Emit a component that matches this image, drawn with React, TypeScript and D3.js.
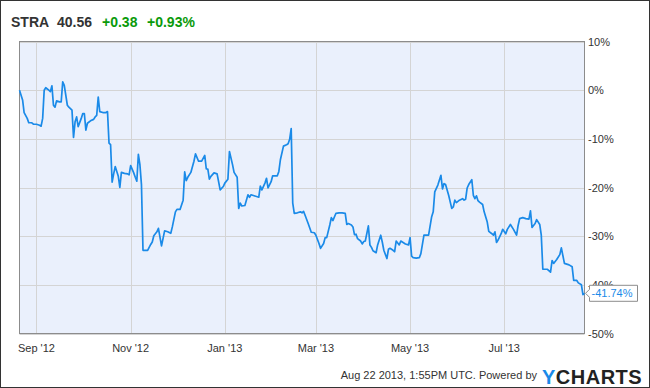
import React, { useMemo } from "react";
import * as d3 from "d3";

// STRA price change since 2012-08-21, in percent
const fall2012: [string, number][] = [
    ["2012-08-21", 0], ["2012-08-23", -2.0], ["2012-08-24", -4.6], ["2012-08-26", -5.8],
    ["2012-08-27", -6.7], ["2012-08-29", -6.7], ["2012-08-30", -7.0], ["2012-09-01", -7.0],
    ["2012-09-03", -7.2], ["2012-09-04", -7.4], ["2012-09-05", -5.8], ["2012-09-06", 0],
    ["2012-09-07", 0.5], ["2012-09-09", 0], ["2012-09-10", -0.3], ["2012-09-11", 0.9],
    ["2012-09-12", -3.1], ["2012-09-13", -3.5], ["2012-09-14", -2.2], ["2012-09-16", -2.4],
    ["2012-09-17", -2.4], ["2012-09-18", 1.7], ["2012-09-19", 1.0], ["2012-09-21", -3.1],
    ["2012-09-22", -3.5], ["2012-09-24", -4.1], ["2012-09-25", -9.7], ["2012-09-26", -6.5],
    ["2012-09-27", -5.5], ["2012-09-28", -7.5], ["2012-09-30", -5.8], ["2012-10-01", -4.8],
    ["2012-10-02", -4.8], ["2012-10-03", -8.2], ["2012-10-04", -6.8], ["2012-10-06", -6.3],
    ["2012-10-08", -6.0], ["2012-10-09", -5.5], ["2012-10-10", -5.2], ["2012-10-11", -1.4],
    ["2012-10-12", -4.4], ["2012-10-14", -4.6], ["2012-10-16", -4.6], ["2012-10-17", -4.4],
    ["2012-10-18", -10.9], ["2012-10-19", -11.2], ["2012-10-20", -18.9], ["2012-10-21", -17.2],
    ["2012-10-22", -15.7], ["2012-10-24", -17.7], ["2012-10-25", -20.0], ["2012-10-26", -16.9],
    ["2012-10-28", -17.1], ["2012-10-30", -17.2], ["2012-10-31", -17.4], ["2012-11-01", -15.5],
    ["2012-11-03", -17.0], ["2012-11-04", -17.9], ["2012-11-05", -18.7], ["2012-11-06", -13.2],
    ["2012-11-07", -15.3], ["2012-11-08", -19.4], ["2012-11-09", -32.9], ["2012-11-11", -32.9],
    ["2012-11-12", -32.9], ["2012-11-14", -31.7], ["2012-11-15", -31.2], ["2012-11-16", -29.9],
    ["2012-11-18", -29.1], ["2012-11-19", -28.4], ["2012-11-21", -32.0],
];

const winter2013: [string, number][] = [
    ["2012-11-23", -28.9], ["2012-11-25", -29.1], ["2012-11-27", -29.4], ["2012-11-28", -28.1],
    ["2012-11-30", -25.0], ["2012-12-01", -24.5], ["2012-12-03", -24.5], ["2012-12-05", -22.6],
    ["2012-12-06", -16.8], ["2012-12-07", -18.6], ["2012-12-08", -17.9], ["2012-12-10", -16.9],
    ["2012-12-12", -14.6], ["2012-12-13", -13.1], ["2012-12-15", -14.6], ["2012-12-16", -14.6],
    ["2012-12-17", -14.6], ["2012-12-19", -13.4], ["2012-12-20", -16.2], ["2012-12-21", -16.2],
    ["2012-12-22", -18.3], ["2012-12-23", -17.7], ["2012-12-25", -17.0], ["2012-12-27", -17.2],
    ["2012-12-29", -20.5], ["2012-12-31", -19.8], ["2013-01-01", -19.1], ["2013-01-03", -18.3],
    ["2013-01-04", -12.6], ["2013-01-06", -15.3], ["2013-01-07", -16.9], ["2013-01-09", -17.9],
    ["2013-01-10", -24.3], ["2013-01-11", -23.2], ["2013-01-12", -23.8], ["2013-01-14", -23.7],
    ["2013-01-16", -21.5], ["2013-01-17", -22.0], ["2013-01-18", -21.5], ["2013-01-20", -21.7],
    ["2013-01-23", -22.0], ["2013-01-24", -19.7], ["2013-01-25", -20.5], ["2013-01-27", -19.1],
    ["2013-01-28", -18.1], ["2013-01-29", -20.1], ["2013-01-31", -18.8], ["2013-02-01", -17.6],
    ["2013-02-04", -17.6], ["2013-02-05", -16.7], ["2013-02-06", -14.3], ["2013-02-08", -11.5],
    ["2013-02-10", -11.2], ["2013-02-11", -11.0], ["2013-02-12", -10.1], ["2013-02-13", -7.9],
    ["2013-02-14", -23.2], ["2013-02-15", -25.3], ["2013-02-17", -25.2],
];

const spring2013: [string, number][] = [
    ["2013-02-19", -25.0], ["2013-02-20", -25.2], ["2013-02-21", -24.9], ["2013-02-22", -25.7],
    ["2013-02-24", -27.4], ["2013-02-26", -29.2], ["2013-02-28", -29.3], ["2013-03-01", -29.8],
    ["2013-03-03", -31.5], ["2013-03-04", -32.5], ["2013-03-06", -31.5], ["2013-03-07", -30.3],
    ["2013-03-08", -30.3], ["2013-03-10", -27.7], ["2013-03-11", -26.2], ["2013-03-12", -26.8],
    ["2013-03-14", -25.3], ["2013-03-16", -25.2], ["2013-03-18", -25.2], ["2013-03-20", -25.3],
    ["2013-03-21", -27.6], ["2013-03-22", -27.4], ["2013-03-24", -27.7], ["2013-03-25", -28.1],
    ["2013-03-26", -29.7], ["2013-03-27", -29.6], ["2013-03-28", -30.5], ["2013-03-30", -31.0],
    ["2013-03-31", -31.6], ["2013-04-01", -31.1], ["2013-04-02", -31.0], ["2013-04-04", -27.9],
    ["2013-04-05", -31.8], ["2013-04-06", -32.3], ["2013-04-07", -33.0], ["2013-04-09", -33.4],
    ["2013-04-10", -31.8], ["2013-04-12", -29.8], ["2013-04-13", -31.2], ["2013-04-14", -32.9],
    ["2013-04-16", -34.6], ["2013-04-17", -32.7], ["2013-04-18", -32.5], ["2013-04-20", -32.9],
    ["2013-04-21", -33.2], ["2013-04-22", -31.0], ["2013-04-24", -31.8], ["2013-04-25", -31.0],
    ["2013-04-26", -31.2], ["2013-04-28", -31.6], ["2013-04-30", -31.8], ["2013-05-01", -30.3],
    ["2013-05-02", -34.1], ["2013-05-03", -34.4], ["2013-05-05", -34.5], ["2013-05-07", -34.4],
    ["2013-05-08", -33.6], ["2013-05-10", -29.8], ["2013-05-11", -29.8], ["2013-05-13", -29.8],
    ["2013-05-15", -26.0], ["2013-05-16", -25.0], ["2013-05-17", -20.9], ["2013-05-19", -19.5],
    ["2013-05-21", -17.5],
];

const summer2013: [string, number][] = [
    ["2013-05-22", -20.3], ["2013-05-23", -19.2], ["2013-05-24", -19.4], ["2013-05-26", -21.6],
    ["2013-05-28", -24.3], ["2013-05-29", -24.0], ["2013-05-30", -22.6], ["2013-05-31", -23.1],
    ["2013-06-02", -22.6], ["2013-06-04", -22.3], ["2013-06-05", -22.6], ["2013-06-06", -22.4],
    ["2013-06-07", -20.1], ["2013-06-08", -19.4], ["2013-06-10", -18.4], ["2013-06-11", -21.6],
    ["2013-06-12", -22.3], ["2013-06-13", -21.7], ["2013-06-14", -22.7], ["2013-06-15", -23.0],
    ["2013-06-17", -23.5], ["2013-06-18", -25.0], ["2013-06-20", -27.1], ["2013-06-21", -29.0],
    ["2013-06-23", -29.5], ["2013-06-24", -29.8], ["2013-06-25", -29.1], ["2013-06-26", -31.3],
    ["2013-06-27", -30.8], ["2013-06-29", -29.5], ["2013-06-30", -28.6], ["2013-07-02", -29.5],
    ["2013-07-03", -28.6], ["2013-07-05", -27.6], ["2013-07-07", -28.6], ["2013-07-09", -29.8],
    ["2013-07-10", -27.8], ["2013-07-11", -26.4], ["2013-07-13", -26.2], ["2013-07-15", -26.4],
    ["2013-07-17", -26.5], ["2013-07-18", -24.8], ["2013-07-19", -28.2], ["2013-07-21", -27.4],
    ["2013-07-22", -26.6], ["2013-07-24", -27.6], ["2013-07-25", -29.8], ["2013-07-26", -36.8],
    ["2013-07-27", -36.8], ["2013-07-29", -36.8], ["2013-07-31", -37.4], ["2013-08-01", -35.0],
    ["2013-08-02", -35.6], ["2013-08-04", -34.8], ["2013-08-06", -33.8], ["2013-08-07", -32.4],
    ["2013-08-09", -35.6], ["2013-08-11", -35.8], ["2013-08-12", -35.9], ["2013-08-14", -36.3],
    ["2013-08-15", -39.1], ["2013-08-17", -39.1], ["2013-08-18", -39.6], ["2013-08-20", -40.0],
    ["2013-08-21", -42.0], ["2013-08-22", -41.74],
];

// header quote
const ticker = "STRA";
const lastPrice = "40.56";
const priceChange = "+0.38";
const pctChange = "+0.93%";
const footerText = "Aug 22 2013, 1:55PM UTC. Powered by";

const yTicks = [10, 0, -10, -20, -30, -40, -50];

const W = 650;
const H = 388;
const margin = { top: 41.5, right: 65.5, bottom: 54.5, left: 19.5 };
const FONT = "Arial, 'Liberation Sans', sans-serif";

const parse = d3.timeParse("%Y-%m-%d");

const App: React.FC = () => {
    const data = useMemo(
        () =>
            [...fall2012, ...winter2013, ...spring2013, ...summer2013].map(
                ([d, v]) => ({ date: parse(d) as Date, value: v })
            ),
        []
    );

    const x = d3
        .scaleTime()
        .domain(d3.extent(data, (d) => d.date) as [Date, Date])
        .range([margin.left, W - margin.right]);
    const y = d3
        .scaleLinear()
        .domain([-50, 10])
        .range([H - margin.bottom, margin.top]);

    const line = d3
        .line<{ date: Date; value: number }>()
        .x((d) => x(d.date))
        .y((d) => y(d.value));

    // every other month, starting at Sep
    const xTicks = d3.timeMonth
        .range(new Date(2012, 8, 1), new Date(2013, 7, 2))
        .filter((_, i) => i % 2 === 0);
    const fmt = d3.timeFormat("%b '%y");

    const x0 = margin.left;
    const x1 = W - margin.right;
    const y0 = margin.top;
    const y1 = H - margin.bottom;

    const last = data[data.length - 1];
    const lx = x(last.date);
    const ly = y(last.value);

    return (
        <svg
            width={W}
            height={H}
            style={{ position: "absolute", left: 0, top: 0, fontFamily: FONT }}
        >
            <rect x={0} y={0} width={W} height={H} fill="#fff" />
            <rect x={0.5} y={0.5} width={W - 1} height={H - 1} fill="none" stroke="#333" />

            {/* header */}
            <text y={27} fontSize={14} fontWeight="bold">
                <tspan x={11} fill="#333">{ticker}</tspan>
                <tspan x={57} fill="#333">{lastPrice}</tspan>
                <tspan x={102} fill="#0a9a0a">{priceChange}</tspan>
                <tspan x={147} fill="#0a9a0a">{pctChange}</tspan>
            </text>

            {/* plot */}
            <rect x={x0} y={y0} width={x1 - x0} height={y1 - y0} fill="#eaf0fc" />
            {yTicks.map((t) => (
                <line key={"gy" + t} x1={x0} x2={x1} y1={Math.round(y(t)) + 0.5} y2={Math.round(y(t)) + 0.5} stroke="#d4d4d4" />
            ))}
            {xTicks.map((t) => (
                <line key={"gx" + +t} x1={Math.round(x(t)) + 0.5} x2={Math.round(x(t)) + 0.5} y1={y0} y2={y1} stroke="#d4d4d4" />
            ))}
            <rect x={x0} y={y0} width={x1 - x0} height={y1 - y0} fill="none" stroke="#8c8c8c" />

            <path d={line(data) ?? ""} fill="none" stroke="#1a8ae8" strokeWidth={1.7} strokeLinejoin="round" />

            {/* axes labels */}
            {yTicks.map((t) => (
                <text key={"ty" + t} x={x1 + 3.5} y={y(t) + 4} fontSize={11} fill="#333">
                    {t + "%"}
                </text>
            ))}
            {xTicks.map((t) => (
                <text key={"tx" + +t} x={x(t)} y={352} fontSize={11} fill="#333" textAnchor="middle">
                    {fmt(t)}
                </text>
            ))}

            {/* last value callout, drawn over the -40% label like the original */}
            <path
                d={`M${lx + 1},${ly} L${lx + 5},${ly - 4} L${lx + 5},${ly - 8} L${lx + 53},${ly - 8} L${lx + 53},${ly + 8} L${lx + 5},${ly + 8} L${lx + 5},${ly + 4} Z`}
                fill="#fff"
                stroke="#8c8c8c"
            />
            <text x={lx + 7} y={ly + 4} fontSize={11} fill="#1a8ae8">
                {last.value.toFixed(2) + "%"}
            </text>

            {/* footer */}
            <text x={537} y={379} fontSize={11} fill="#333" textAnchor="end">
                {footerText}
            </text>
            <text x={542} y={384} fontSize={20} fontWeight="900" fill="#222" letterSpacing={0.5}>
                <tspan fill="#1a8ae8">Y</tspan>CHARTS
            </text>
        </svg>
    );
};

export default App;
